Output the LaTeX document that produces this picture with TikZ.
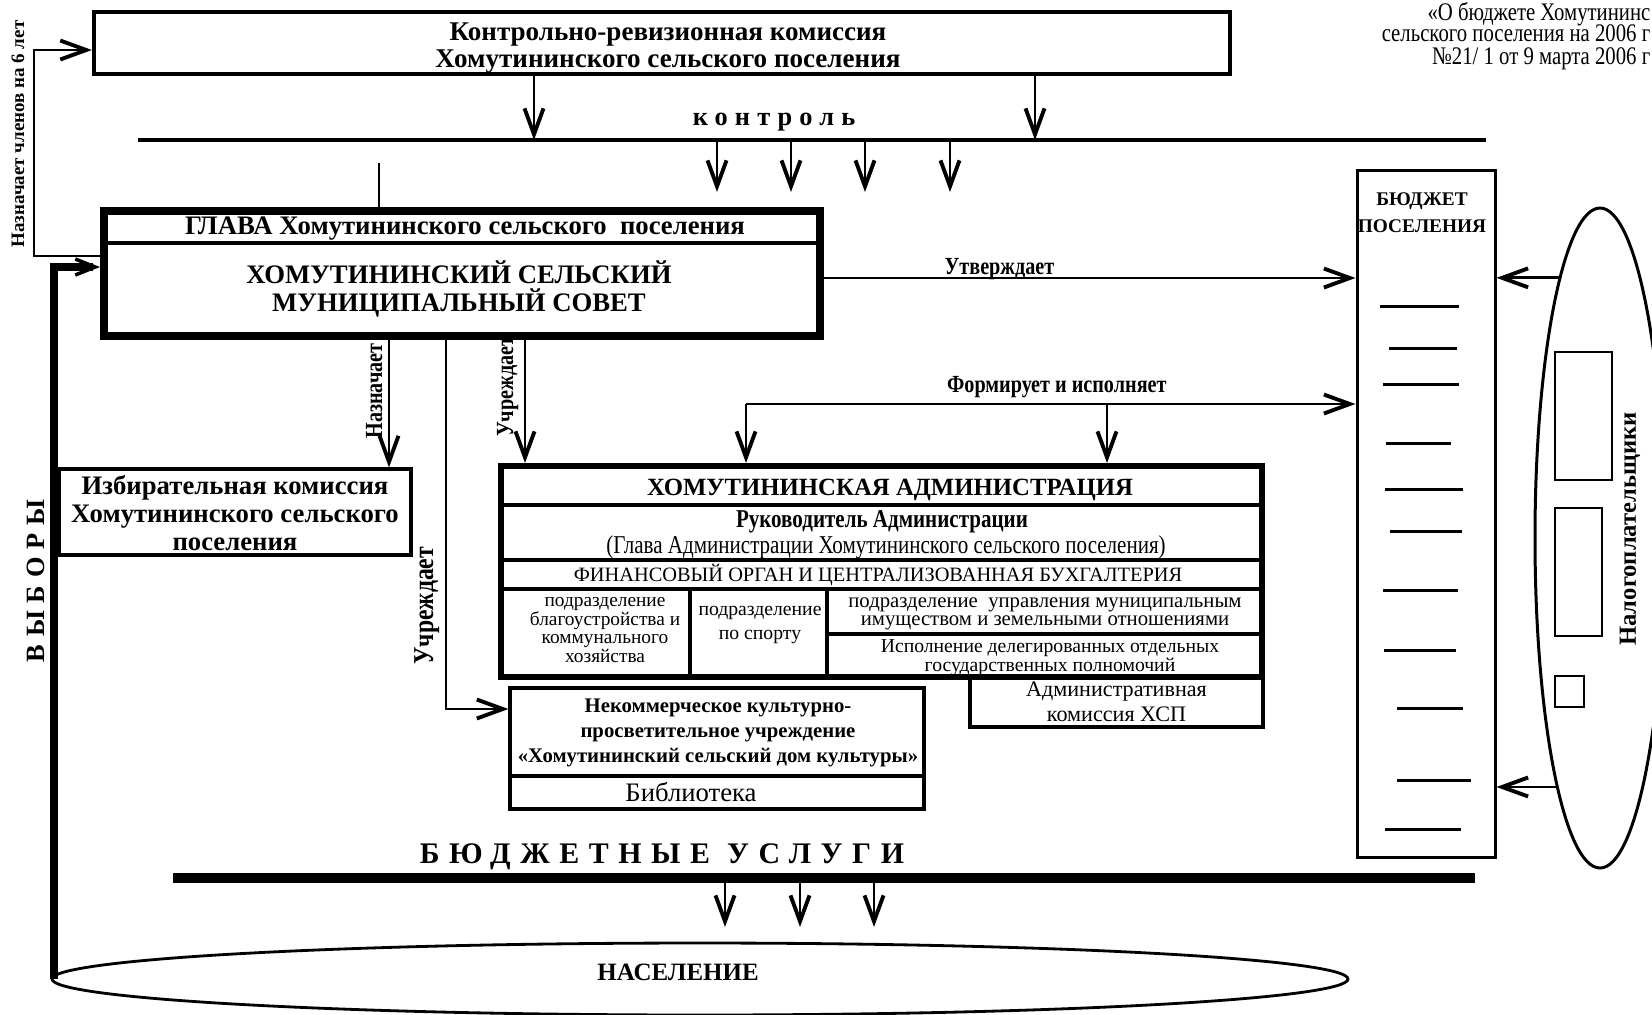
\documentclass[tikz,border=0pt]{standalone}
\usepackage{fontspec}
\setmainfont{Liberation Serif}
\newfontfamily\narrowfont[FakeStretch=0.82]{Liberation Serif}
\newfontfamily\spacedfont[LetterSpace=27]{Liberation Serif}
\newfontfamily\widefont[LetterSpace=32]{Liberation Serif}
\newfontfamily\vyborfont[LetterSpace=30]{Liberation Serif}
\usetikzlibrary{arrows.meta,positioning,shapes.geometric}

\tikzset{
  arr/.style={-{Straight Barb[length=2.6mm,width=1.9mm,line width=1.1pt]},line width=0.8pt},
  box/.style={draw,line width=0.9pt,inner sep=0pt,align=center},
  txt/.style={inner sep=0pt,align=center},
  lbl/.style={inner sep=1.5pt,font=\fontsize{7}{8}\narrowfont\bfseries},
}

\begin{document}
\begin{tikzpicture}[x=0.1mm,y=-0.1mm]
\useasboundingbox (0,0) rectangle (1652,1014);
\clip (0,0) rectangle (1652,1014);

\node[box,line width=1.2pt,minimum width=113.6mm,minimum height=6.2mm] (krk) at (662,43) {};
\node[txt,font=\fontsize{7.7}{7.7}\selectfont\bfseries] (krktxt) at (668,48) {Контрольно-ревизионная комиссия\\Хомутининского сельского поселения};
\node[txt,anchor=east,font=\fontsize{7.2}{7}\narrowfont] (note1) at (1651,14) {«О бюджете Хомутининс};
\node[txt,anchor=east,font=\fontsize{7.2}{7}\narrowfont] (note2) at (1651,33) {сельского поселения на 2006 г};
\node[txt,anchor=east,font=\fontsize{7.2}{7}\narrowfont] (note3) at (1651,59) {№21/ 1 от 9 марта 2006 г};

% контроль
\coordinate (ctrlL) at (138,140);
\coordinate (ctrlR) at (1486,140);
\draw[line width=1.4pt] (ctrlL) -- (ctrlR);
\node[txt,font=\fontsize{7.5}{8}\spacedfont\bfseries] (ctrl) at (774,122) {контроль};
\draw[arr] (534,0 |- krk.south) -- (534,0 |- ctrlL);
\draw[arr] (1035,0 |- krk.south) -- (1035,0 |- ctrlL);
\foreach \x in {717,791,865,950}
  \draw[arr] (\x,0 |- ctrlL) -- ++(0,52);

% глава и совет
\node[box,line width=2.3pt,minimum width=71.6mm,minimum height=12.5mm] (glava) at (462,273.5) {};
\draw[line width=0.9pt] (glava.west |- 0,243) -- (glava.east |- 0,243);
\node[txt,font=\fontsize{7.6}{8}\selectfont\bfseries] (glavahead) at (465,229) {ГЛАВА Хомутининского сельского\ \ поселения};
\node[txt,font=\fontsize{7.6}{8}\selectfont\bfseries] (sovet) at (459,289) {ХОМУТИНИНСКИЙ СЕЛЬСКИЙ\\МУНИЦИПАЛЬНЫЙ СОВЕТ};
\coordinate (stub) at (379,163);
\draw[line width=0.6pt] (stub) -- (stub |- glava.north);
\draw[arr] (glava.west |- 0,256) -| (34,50) -- (krk.west |- 0,50);
\node[txt,rotate=90,font=\fontsize{5.4}{6}\selectfont\bfseries] (naz6) at (18,134) {Назначает членов на 6 лет};

% население и выборы
\node[ellipse,draw,line width=0.8pt,minimum width=129.6mm,minimum height=7.2mm,inner sep=0pt] (nas) at (700,979) {};
\node[txt,font=\fontsize{7.1}{8}\selectfont\bfseries] (naslbl) at (678,972) {НАСЕЛЕНИЕ};
\draw[line width=2.3pt,-{Straight Barb[length=2mm,width=1.6mm,line width=1pt]}] (nas.west) ++(3,0) |- (glava.west |- 0,267);
\node[txt,rotate=90,font=\fontsize{7.5}{8}\vyborfont\bfseries] (vybory) at (36,581) {ВЫБОРЫ};

\node[box,minimum width=35.2mm,minimum height=8.6mm] (izb) at (235,512) {};
\node[txt,font=\fontsize{7.6}{7.9}\selectfont\bfseries] (izbtxt) at (235,513) {Избирательная комиссия\\Хомутининского сельского\\поселения};
\draw[arr] (389,0 |- glava.south) -- (389,0 |- izb.north) node[pos=0.4,rotate=90,anchor=south,lbl] {Назначает};

% администрация
\node[box,line width=1.7pt,minimum width=76.1mm,minimum height=21.1mm] (adm) at (881.5,571.5) {};
\foreach \y in {505,560,589}
  \draw[line width=0.9pt] (adm.west |- 0,\y) -- (adm.east |- 0,\y);
\foreach \x in {690,827}
  \draw[line width=0.9pt] (\x,589) -- (\x,0 |- adm.south);
\draw[line width=0.9pt] (827,634) -- (adm.east |- 0,634);
\node[txt,font=\fontsize{7.05}{8}\selectfont\bfseries] (admtitle) at (890,490) {ХОМУТИНИНСКАЯ АДМИНИСТРАЦИЯ};
\node[txt,font=\fontsize{7.3}{8}\narrowfont\bfseries] (admhead) at (882,522) {Руководитель Администрации};
\node[txt,font=\fontsize{7.3}{8}\narrowfont] (admglava) at (886,547) {(Глава Администрации Хомутининского сельского поселения)};
\node[txt,font=\fontsize{5.8}{7}\selectfont] (fin) at (878,575) {ФИНАНСОВЫЙ ОРГАН И ЦЕНТРАЛИЗОВАННАЯ БУХГАЛТЕРИЯ};
\node[txt,font=\fontsize{5.5}{5.3}\selectfont] (blag) at (605,630) {подразделение\\благоустройства и\\коммунального\\хозяйства};
\node[txt,font=\fontsize{5.6}{6.8}\selectfont] (sport) at (760,625) {подразделение\\по спорту};
\node[txt,font=\fontsize{5.9}{5.3}\selectfont] (imush) at (1045,614) {подразделение\ \ управления муниципальным\\имуществом и земельными отношениями};
\node[txt,font=\fontsize{5.6}{5.4}\selectfont] (deleg) at (1050,658) {Исполнение делегированных отдельных\\государственных полномочий};
\node[box,minimum width=29.3mm,minimum height=5mm,font=\fontsize{6.3}{7}\selectfont] (akom) at (1116.5,702) {Административная\\комиссия ХСП};

\coordinate (form) at (746,404);
\coordinate (form2) at (1107,404);
\draw[arr] (525,0 |- glava.south) -- (525,0 |- adm.north) node[pos=0.38,rotate=90,anchor=south,lbl] {Учреждает};
\draw[arr] (form) -- (form |- adm.north);
\draw[arr] (form2) -- (form2 |- adm.north);

% дом культуры
\node[box,minimum width=41.4mm,minimum height=12.1mm] (nkc) at (717,748.5) {};
\draw[line width=1.2pt] (nkc.west |- 0,776) -- (nkc.east |- 0,776);
\node[txt,font=\fontsize{5.9}{7}\selectfont\bfseries] (nkctxt) at (718,733) {Некоммерческое культурно-\\просветительное учреждение\\«Хомутининский сельский дом культуры»};
\node[txt,font=\fontsize{7.6}{8}\selectfont] (bibl) at (691,792) {Библиотека};
\draw[arr] (446,0 |- glava.south) |- (nkc.west |- 0,709) node[pos=0.36,rotate=90,anchor=south,lbl,font=\fontsize{8.2}{9}\narrowfont\bfseries] {Учреждает};

% бюджет
\node[box,line width=0.85pt,minimum width=13.8mm,minimum height=68.7mm] (budget) at (1426,513.5) {};
\node[txt,font=\fontsize{5.5}{7.7}\selectfont\bfseries] (budtxt) at (1422,213) {БЮДЖЕТ\\ПОСЕЛЕНИЯ};
\foreach \y/\a/\b in {306/1380/1459,348/1389/1457,384/1383/1459,443/1386/1451,489/1385/1463,531/1390/1462,590/1383/1458,650/1384/1456,708/1397/1463,780/1397/1471,829/1385/1461}
  \draw[line width=0.85pt] (\a,\y) -- (\b,\y);
\draw[arr] (glava.east |- 0,278) -- (budget.west |- 0,278) node[pos=0.33,above,lbl,yshift=-2.5pt] {Утверждает};
\draw[arr] (form) -- (budget.west |- form) node[pos=0.51,above,lbl] {Формирует и исполняет};

% налогоплательщики
\node[ellipse,draw,line width=0.85pt,minimum width=13mm,minimum height=66mm,inner sep=0pt] (payers) at (1600,538) {};
\node[txt,rotate=90,font=\fontsize{7}{8}\selectfont\bfseries] (paylbl) at (1630,529) {Налогоплательщики};
\draw[line width=0.8pt] (1555,352) rectangle (1612,480);
\draw[line width=0.8pt] (1555,508) rectangle (1602,636);
\draw[line width=0.8pt] (1555,676) rectangle (1584,707);
\draw[arr] (payers.99) -- (budget.east |- payers.99);
\draw[arr] (payers.260) -- (budget.east |- payers.260);

% услуги
\coordinate (uslL) at (173,878);
\coordinate (uslR) at (1475,878);
\draw[line width=2.6pt] (uslL) -- (uslR);
\node[txt,font=\fontsize{8.5}{9}\widefont\bfseries] (usl) at (662,857) {БЮДЖЕТНЫЕ УСЛУГИ};
\foreach \x in {725,800,874}
  \draw[arr] (\x,0 |- uslL) -- ++(0,49);
\end{tikzpicture}
\end{document}
